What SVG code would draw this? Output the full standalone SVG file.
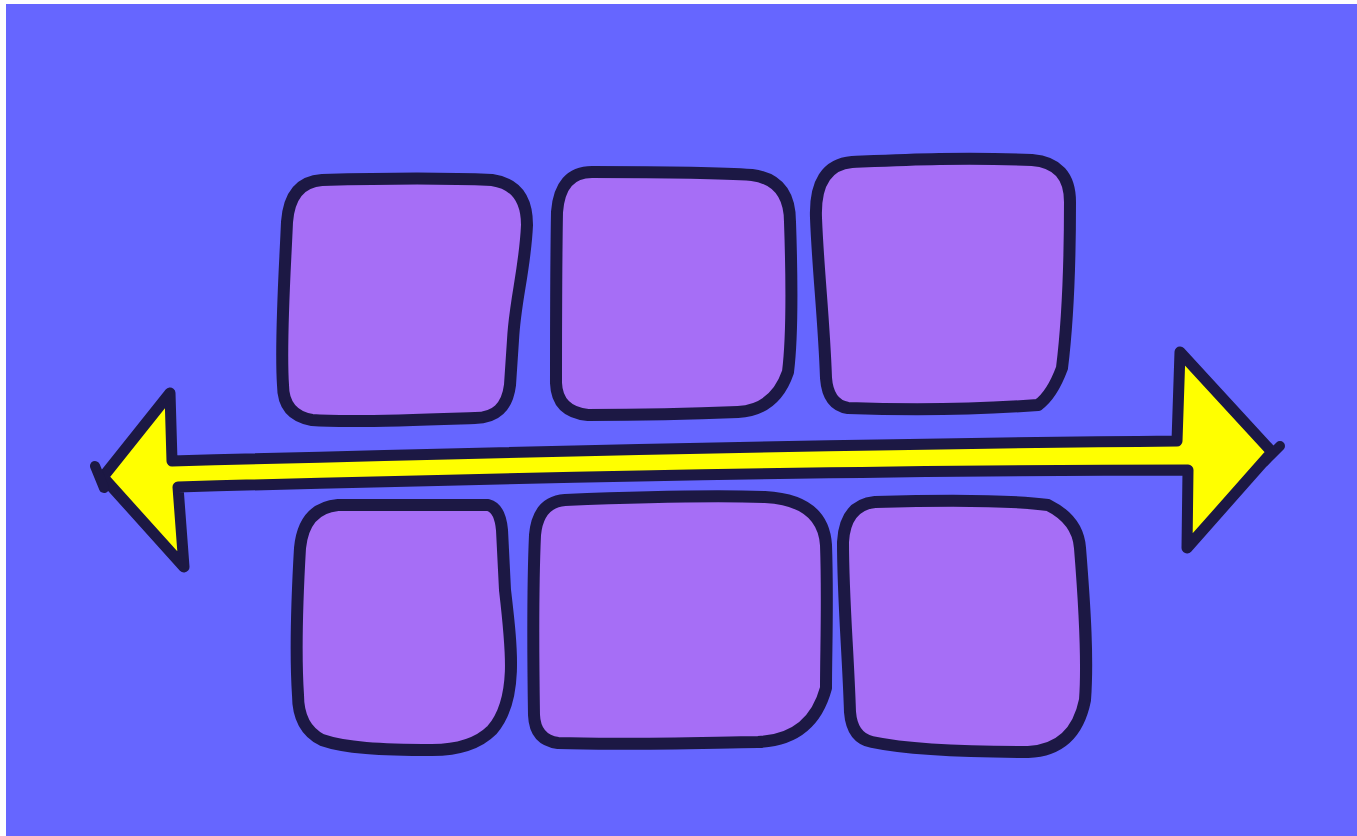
<svg xmlns="http://www.w3.org/2000/svg" width="1357" height="836" viewBox="0 0 1357 836">
<style>
.box{fill:#a66ef6;stroke:#1c1844;stroke-width:12;stroke-linejoin:round;stroke-linecap:round}
.arrow{fill:#ffff00;stroke:#1c1844;stroke-width:11;stroke-linejoin:round;stroke-linecap:round}
.tick{fill:none;stroke:#1c1844;stroke-width:10;stroke-linecap:round}
</style>
<rect x="0" y="0" width="1357" height="836" fill="#ffffff"/>
<rect x="6" y="4" width="1351" height="832" fill="#6666ff"/>
<g id="box1"><path class="box" d="M 322,180 C 390,178 450,178 492,180 Q 527,185 527,225 C 525,270 515,300 513,340 L 510,385 Q 506,418 475,418 C 420,420 350,423 312,420 Q 283,415 283,385 C 280,340 285,270 287,222 Q 290,182 322,180 Z"/></g>
<g id="box2"><path class="box" d="M 592,172 C 650,172 710,172 752,175 Q 790,180 790,222 C 792,280 792,340 788,372 Q 775,410 738,412 C 690,414 630,415 588,415 Q 557,412 556,383 C 556,330 556,270 557,212 Q 560,172 592,172 Z"/></g>
<g id="box3"><path class="box" d="M 852,162 C 900,160 960,157 1032,160 Q 1070,163 1070,202 C 1070,260 1068,320 1062,368 Q 1052,395 1038,405 C 970,410 900,410 848,408 Q 828,405 826,378 C 824,320 818,270 816,218 Q 814,165 852,162 Z"/></g>
<g id="box4"><path class="box" d="M 338,505 C 390,505 440,505 488,505 Q 500,508 502,530 L 505,590 C 512,650 518,700 492,730 Q 472,750 432,750 C 380,750 345,748 322,740 Q 298,728 298,695 C 295,650 297,600 300,548 Q 304,508 338,505 Z"/></g>
<g id="box5"><path class="box" d="M 565,500 C 640,497 700,495 765,497 Q 823,500 826,545 C 828,600 826,650 826,688 Q 812,740 758,742 C 690,743 620,745 558,743 Q 535,740 534,715 C 533,650 533,580 535,535 Q 538,502 565,500 Z"/></g>
<g id="box6"><path class="box" d="M 875,502 C 940,500 1010,500 1048,505 Q 1078,520 1080,548 C 1085,610 1088,660 1085,700 Q 1075,750 1028,752 C 970,752 910,750 872,742 Q 852,738 850,712 C 848,650 843,600 843,542 Q 845,505 875,502 Z"/></g>
<g id="connectors">
<path class="arrow" d="M 172,461 C 500,452 850,444 1177,441 L 1180,352 L 1272,452 L 1187,548 L 1188,470 C 850,470 500,478 178,487 L 184,567 L 103,477 L 170,393 Z"/>
<path class="tick" d="M 95,466 L 104,488 M 1280,446 L 1264,462"/>
</g>
</svg>
